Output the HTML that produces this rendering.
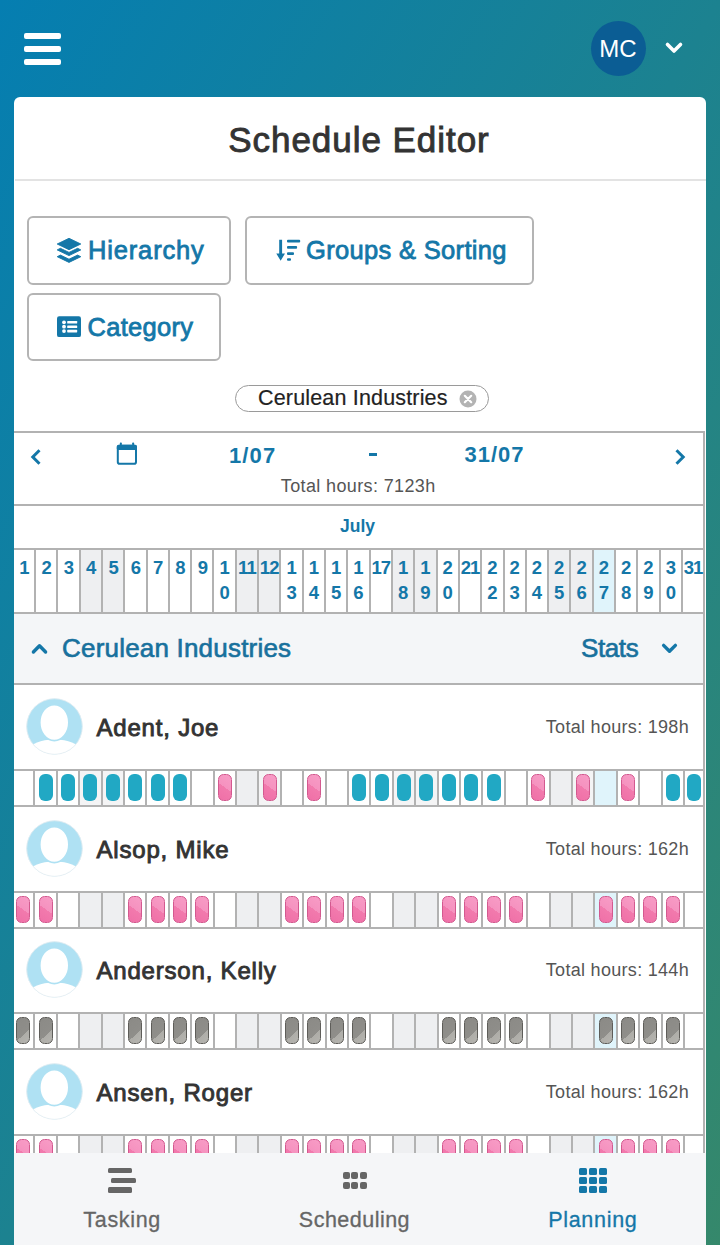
<!DOCTYPE html>
<html><head><meta charset="utf-8"><title>Schedule Editor</title>
<style>
html,body{margin:0;padding:0;overflow:hidden;}
body{width:720px;height:1245px;overflow:hidden;position:relative;font-family:"Liberation Sans", sans-serif;
background:linear-gradient(to bottom right,#057eb1 0%,#1c8290 50%,#35886b 100%);}
.t{position:absolute;white-space:nowrap;line-height:1;}
</style></head><body>
<div style="position:absolute;left:24.00px;top:32.50px;width:37.00px;height:6.00px;background:#fff;border-radius:2px;"></div><div style="position:absolute;left:24.00px;top:45.80px;width:37.00px;height:6.00px;background:#fff;border-radius:2px;"></div><div style="position:absolute;left:24.00px;top:59.00px;width:37.00px;height:6.00px;background:#fff;border-radius:2px;"></div><div style="position:absolute;left:590.50px;top:20.50px;width:55.00px;height:55.00px;background:#0b5d94;border-radius:50%;"></div><div class="t" style="left:218.00px;width:800px;text-align:center;top:37.18px;font-size:24px;font-weight:normal;color:#fff;">MC</div><svg style="position:absolute;left:664px;top:40px" width="20" height="16" viewBox="0 0 20 16"><polyline points="3.5,4.5 10,11 16.5,4.5" fill="none" stroke="#fff" stroke-width="3.6" stroke-linecap="round" stroke-linejoin="round"/></svg><div style="position:absolute;left:14.00px;top:97.00px;width:692.00px;height:1200.00px;background:#fff;border-radius:6px 6px 0 0;"></div><div class="t" style="left:-41.50px;width:800px;text-align:center;top:121.87px;font-size:35px;font-weight:normal;color:#333;letter-spacing:0.96px;text-indent:0.96px;-webkit-text-stroke:0.9px #333;">Schedule Editor</div><div style="position:absolute;left:15.00px;top:179.00px;width:691.00px;height:2.00px;background:#e3e3e3;"></div><div style="position:absolute;left:27.00px;top:216.00px;width:204.00px;height:69.00px;box-sizing:border-box;border:2px solid #b4b4b4;border-radius:6px;background:#fff;"></div><div style="position:absolute;left:245.00px;top:216.00px;width:289.00px;height:68.50px;box-sizing:border-box;border:2px solid #b4b4b4;border-radius:6px;background:#fff;"></div><div style="position:absolute;left:27.00px;top:292.50px;width:194.00px;height:68.00px;box-sizing:border-box;border:2px solid #b4b4b4;border-radius:6px;background:#fff;"></div><div style="position:absolute;left:235.00px;top:384.50px;width:253.50px;height:27.00px;box-sizing:border-box;border:1.5px solid #9a9a9a;border-radius:14px;background:#fff;"></div><div class="t" style="left:258.00px;top:387.70px;font-size:21.5px;font-weight:normal;color:#222;letter-spacing:0.17px;-webkit-text-stroke:0.2px #222;">Cerulean Industries</div><svg style="position:absolute;left:459px;top:389.5px" width="18" height="18" viewBox="0 0 18 18"><circle cx="9" cy="9" r="8.5" fill="#b3b3b3"/><path d="M5.8,5.8 L12.2,12.2 M12.2,5.8 L5.8,12.2" stroke="#fff" stroke-width="2.2" stroke-linecap="round"/></svg><div style="position:absolute;left:14.00px;top:431.00px;width:691.00px;height:2.00px;background:#b2b2b2;"></div><div style="position:absolute;left:14.00px;top:504.00px;width:691.00px;height:2.00px;background:#b2b2b2;"></div><div style="position:absolute;left:703.00px;top:431.00px;width:2.00px;height:1000.00px;background:#b2b2b2;"></div><svg style="position:absolute;left:28px;top:447px" width="16" height="20" viewBox="0 0 16 20"><polyline points="11.5,3.3 4.8,10 11.5,16.7" fill="none" stroke="#1477a8" stroke-width="3" stroke-linecap="butt" stroke-linejoin="miter"/></svg><svg style="position:absolute;left:672px;top:447px" width="16" height="20" viewBox="0 0 16 20"><polyline points="4.5,3.3 11.2,10 4.5,16.7" fill="none" stroke="#1477a8" stroke-width="3" stroke-linecap="butt" stroke-linejoin="miter"/></svg><svg style="position:absolute;left:116px;top:441px" width="23" height="25" viewBox="0 0 23 25"><rect x="1.8" y="4.8" width="18.2" height="17.9" rx="1.8" fill="none" stroke="#1477a8" stroke-width="2"/><rect x="0.8" y="3.8" width="20.2" height="5.3" rx="1.8" fill="#1477a8"/><rect x="3.9" y="1.6" width="1.9" height="3" rx="0.6" fill="#1477a8"/><rect x="16.2" y="1.6" width="1.9" height="3" rx="0.6" fill="#1477a8"/></svg><div class="t" style="left:229.00px;top:444.68px;font-size:22px;font-weight:bold;color:#1477a8;letter-spacing:1.1px;">1/07</div><div style="position:absolute;left:368.80px;top:453.00px;width:8.20px;height:3.20px;background:#1477a8;"></div><div class="t" style="left:464.50px;top:444.48px;font-size:22px;font-weight:bold;color:#1477a8;letter-spacing:1px;">31/07</div><div class="t" style="left:-42.00px;width:800px;text-align:center;top:476.96px;font-size:18px;font-weight:normal;color:#555;letter-spacing:0.37px;text-indent:0.37px;">Total hours: 7123h</div><div class="t" style="left:-42.50px;width:800px;text-align:center;top:517.59px;font-size:17.5px;font-weight:bold;color:#1477a8;">July</div><div style="position:absolute;left:80.62px;top:550.00px;width:20.31px;height:62.00px;background:#eeeff1;"></div><div style="position:absolute;left:102.93px;top:550.00px;width:20.31px;height:62.00px;background:#eeeff1;"></div><div style="position:absolute;left:236.79px;top:550.00px;width:20.31px;height:62.00px;background:#eeeff1;"></div><div style="position:absolute;left:259.10px;top:550.00px;width:20.31px;height:62.00px;background:#eeeff1;"></div><div style="position:absolute;left:392.96px;top:550.00px;width:20.31px;height:62.00px;background:#eeeff1;"></div><div style="position:absolute;left:415.27px;top:550.00px;width:20.31px;height:62.00px;background:#eeeff1;"></div><div style="position:absolute;left:549.13px;top:550.00px;width:20.31px;height:62.00px;background:#eeeff1;"></div><div style="position:absolute;left:571.44px;top:550.00px;width:20.31px;height:62.00px;background:#eeeff1;"></div><div style="position:absolute;left:593.75px;top:550.00px;width:20.31px;height:62.00px;background:#e0f4fb;"></div><div style="position:absolute;left:14.00px;top:548.00px;width:691.00px;height:2.00px;background:#b2b2b2;"></div><div style="position:absolute;left:14.00px;top:612.00px;width:691.00px;height:2.00px;background:#b2b2b2;"></div><div style="position:absolute;left:34.00px;top:548.00px;width:2.00px;height:66.00px;background:#b2b2b2;"></div><div style="position:absolute;left:56.31px;top:548.00px;width:2.00px;height:66.00px;background:#b2b2b2;"></div><div style="position:absolute;left:78.62px;top:548.00px;width:2.00px;height:66.00px;background:#b2b2b2;"></div><div style="position:absolute;left:100.93px;top:548.00px;width:2.00px;height:66.00px;background:#b2b2b2;"></div><div style="position:absolute;left:123.24px;top:548.00px;width:2.00px;height:66.00px;background:#b2b2b2;"></div><div style="position:absolute;left:145.55px;top:548.00px;width:2.00px;height:66.00px;background:#b2b2b2;"></div><div style="position:absolute;left:167.86px;top:548.00px;width:2.00px;height:66.00px;background:#b2b2b2;"></div><div style="position:absolute;left:190.17px;top:548.00px;width:2.00px;height:66.00px;background:#b2b2b2;"></div><div style="position:absolute;left:212.48px;top:548.00px;width:2.00px;height:66.00px;background:#b2b2b2;"></div><div style="position:absolute;left:234.79px;top:548.00px;width:2.00px;height:66.00px;background:#b2b2b2;"></div><div style="position:absolute;left:257.10px;top:548.00px;width:2.00px;height:66.00px;background:#b2b2b2;"></div><div style="position:absolute;left:279.41px;top:548.00px;width:2.00px;height:66.00px;background:#b2b2b2;"></div><div style="position:absolute;left:301.72px;top:548.00px;width:2.00px;height:66.00px;background:#b2b2b2;"></div><div style="position:absolute;left:324.03px;top:548.00px;width:2.00px;height:66.00px;background:#b2b2b2;"></div><div style="position:absolute;left:346.34px;top:548.00px;width:2.00px;height:66.00px;background:#b2b2b2;"></div><div style="position:absolute;left:368.65px;top:548.00px;width:2.00px;height:66.00px;background:#b2b2b2;"></div><div style="position:absolute;left:390.96px;top:548.00px;width:2.00px;height:66.00px;background:#b2b2b2;"></div><div style="position:absolute;left:413.27px;top:548.00px;width:2.00px;height:66.00px;background:#b2b2b2;"></div><div style="position:absolute;left:435.58px;top:548.00px;width:2.00px;height:66.00px;background:#b2b2b2;"></div><div style="position:absolute;left:457.89px;top:548.00px;width:2.00px;height:66.00px;background:#b2b2b2;"></div><div style="position:absolute;left:480.20px;top:548.00px;width:2.00px;height:66.00px;background:#b2b2b2;"></div><div style="position:absolute;left:502.51px;top:548.00px;width:2.00px;height:66.00px;background:#b2b2b2;"></div><div style="position:absolute;left:524.82px;top:548.00px;width:2.00px;height:66.00px;background:#b2b2b2;"></div><div style="position:absolute;left:547.13px;top:548.00px;width:2.00px;height:66.00px;background:#b2b2b2;"></div><div style="position:absolute;left:569.44px;top:548.00px;width:2.00px;height:66.00px;background:#b2b2b2;"></div><div style="position:absolute;left:591.75px;top:548.00px;width:2.00px;height:66.00px;background:#b2b2b2;"></div><div style="position:absolute;left:614.06px;top:548.00px;width:2.00px;height:66.00px;background:#b2b2b2;"></div><div style="position:absolute;left:636.37px;top:548.00px;width:2.00px;height:66.00px;background:#b2b2b2;"></div><div style="position:absolute;left:658.68px;top:548.00px;width:2.00px;height:66.00px;background:#b2b2b2;"></div><div style="position:absolute;left:680.99px;top:548.00px;width:2.00px;height:66.00px;background:#b2b2b2;"></div><div class="t" style="left:-376.15px;width:800px;text-align:center;top:559.34px;font-size:18.5px;font-weight:bold;color:#1477a8;letter-spacing:-0.9px;">1</div><div class="t" style="left:-353.85px;width:800px;text-align:center;top:559.34px;font-size:18.5px;font-weight:bold;color:#1477a8;letter-spacing:-0.9px;">2</div><div class="t" style="left:-331.53px;width:800px;text-align:center;top:559.34px;font-size:18.5px;font-weight:bold;color:#1477a8;letter-spacing:-0.9px;">3</div><div class="t" style="left:-309.23px;width:800px;text-align:center;top:559.34px;font-size:18.5px;font-weight:bold;color:#1477a8;letter-spacing:-0.9px;">4</div><div class="t" style="left:-286.92px;width:800px;text-align:center;top:559.34px;font-size:18.5px;font-weight:bold;color:#1477a8;letter-spacing:-0.9px;">5</div><div class="t" style="left:-264.61px;width:800px;text-align:center;top:559.34px;font-size:18.5px;font-weight:bold;color:#1477a8;letter-spacing:-0.9px;">6</div><div class="t" style="left:-242.30px;width:800px;text-align:center;top:559.34px;font-size:18.5px;font-weight:bold;color:#1477a8;letter-spacing:-0.9px;">7</div><div class="t" style="left:-219.99px;width:800px;text-align:center;top:559.34px;font-size:18.5px;font-weight:bold;color:#1477a8;letter-spacing:-0.9px;">8</div><div class="t" style="left:-197.68px;width:800px;text-align:center;top:559.34px;font-size:18.5px;font-weight:bold;color:#1477a8;letter-spacing:-0.9px;">9</div><div class="t" style="left:-175.37px;width:800px;text-align:center;top:559.34px;font-size:18.5px;font-weight:bold;color:#1477a8;">1</div><div class="t" style="left:-175.37px;width:800px;text-align:center;top:583.54px;font-size:18.5px;font-weight:bold;color:#1477a8;">0</div><div class="t" style="left:-153.06px;width:800px;text-align:center;top:559.34px;font-size:18.5px;font-weight:bold;color:#1477a8;letter-spacing:-0.9px;">11</div><div class="t" style="left:-130.75px;width:800px;text-align:center;top:559.34px;font-size:18.5px;font-weight:bold;color:#1477a8;letter-spacing:-0.9px;">12</div><div class="t" style="left:-108.44px;width:800px;text-align:center;top:559.34px;font-size:18.5px;font-weight:bold;color:#1477a8;">1</div><div class="t" style="left:-108.44px;width:800px;text-align:center;top:583.54px;font-size:18.5px;font-weight:bold;color:#1477a8;">3</div><div class="t" style="left:-86.12px;width:800px;text-align:center;top:559.34px;font-size:18.5px;font-weight:bold;color:#1477a8;">1</div><div class="t" style="left:-86.12px;width:800px;text-align:center;top:583.54px;font-size:18.5px;font-weight:bold;color:#1477a8;">4</div><div class="t" style="left:-63.82px;width:800px;text-align:center;top:559.34px;font-size:18.5px;font-weight:bold;color:#1477a8;">1</div><div class="t" style="left:-63.82px;width:800px;text-align:center;top:583.54px;font-size:18.5px;font-weight:bold;color:#1477a8;">5</div><div class="t" style="left:-41.50px;width:800px;text-align:center;top:559.34px;font-size:18.5px;font-weight:bold;color:#1477a8;">1</div><div class="t" style="left:-41.50px;width:800px;text-align:center;top:583.54px;font-size:18.5px;font-weight:bold;color:#1477a8;">6</div><div class="t" style="left:-19.20px;width:800px;text-align:center;top:559.34px;font-size:18.5px;font-weight:bold;color:#1477a8;letter-spacing:-0.9px;">17</div><div class="t" style="left:3.12px;width:800px;text-align:center;top:559.34px;font-size:18.5px;font-weight:bold;color:#1477a8;">1</div><div class="t" style="left:3.12px;width:800px;text-align:center;top:583.54px;font-size:18.5px;font-weight:bold;color:#1477a8;">8</div><div class="t" style="left:25.42px;width:800px;text-align:center;top:559.34px;font-size:18.5px;font-weight:bold;color:#1477a8;">1</div><div class="t" style="left:25.42px;width:800px;text-align:center;top:583.54px;font-size:18.5px;font-weight:bold;color:#1477a8;">9</div><div class="t" style="left:47.74px;width:800px;text-align:center;top:559.34px;font-size:18.5px;font-weight:bold;color:#1477a8;">2</div><div class="t" style="left:47.74px;width:800px;text-align:center;top:583.54px;font-size:18.5px;font-weight:bold;color:#1477a8;">0</div><div class="t" style="left:70.04px;width:800px;text-align:center;top:559.34px;font-size:18.5px;font-weight:bold;color:#1477a8;letter-spacing:-0.9px;">21</div><div class="t" style="left:92.36px;width:800px;text-align:center;top:559.34px;font-size:18.5px;font-weight:bold;color:#1477a8;">2</div><div class="t" style="left:92.36px;width:800px;text-align:center;top:583.54px;font-size:18.5px;font-weight:bold;color:#1477a8;">2</div><div class="t" style="left:114.66px;width:800px;text-align:center;top:559.34px;font-size:18.5px;font-weight:bold;color:#1477a8;">2</div><div class="t" style="left:114.66px;width:800px;text-align:center;top:583.54px;font-size:18.5px;font-weight:bold;color:#1477a8;">3</div><div class="t" style="left:136.97px;width:800px;text-align:center;top:559.34px;font-size:18.5px;font-weight:bold;color:#1477a8;">2</div><div class="t" style="left:136.97px;width:800px;text-align:center;top:583.54px;font-size:18.5px;font-weight:bold;color:#1477a8;">4</div><div class="t" style="left:159.28px;width:800px;text-align:center;top:559.34px;font-size:18.5px;font-weight:bold;color:#1477a8;">2</div><div class="t" style="left:159.28px;width:800px;text-align:center;top:583.54px;font-size:18.5px;font-weight:bold;color:#1477a8;">5</div><div class="t" style="left:181.60px;width:800px;text-align:center;top:559.34px;font-size:18.5px;font-weight:bold;color:#1477a8;">2</div><div class="t" style="left:181.60px;width:800px;text-align:center;top:583.54px;font-size:18.5px;font-weight:bold;color:#1477a8;">6</div><div class="t" style="left:203.90px;width:800px;text-align:center;top:559.34px;font-size:18.5px;font-weight:bold;color:#1477a8;">2</div><div class="t" style="left:203.90px;width:800px;text-align:center;top:583.54px;font-size:18.5px;font-weight:bold;color:#1477a8;">7</div><div class="t" style="left:226.21px;width:800px;text-align:center;top:559.34px;font-size:18.5px;font-weight:bold;color:#1477a8;">2</div><div class="t" style="left:226.21px;width:800px;text-align:center;top:583.54px;font-size:18.5px;font-weight:bold;color:#1477a8;">8</div><div class="t" style="left:248.52px;width:800px;text-align:center;top:559.34px;font-size:18.5px;font-weight:bold;color:#1477a8;">2</div><div class="t" style="left:248.52px;width:800px;text-align:center;top:583.54px;font-size:18.5px;font-weight:bold;color:#1477a8;">9</div><div class="t" style="left:270.84px;width:800px;text-align:center;top:559.34px;font-size:18.5px;font-weight:bold;color:#1477a8;">3</div><div class="t" style="left:270.84px;width:800px;text-align:center;top:583.54px;font-size:18.5px;font-weight:bold;color:#1477a8;">0</div><div class="t" style="left:293.14px;width:800px;text-align:center;top:559.34px;font-size:18.5px;font-weight:bold;color:#1477a8;letter-spacing:-0.9px;">31</div><div style="position:absolute;left:14.00px;top:614.00px;width:689.00px;height:69.50px;background:#f4f6f8;"></div><div style="position:absolute;left:14.00px;top:683.00px;width:691.00px;height:2.00px;background:#b2b2b2;"></div><svg style="position:absolute;left:29px;top:641px" width="21" height="16" viewBox="0 0 21 16"><polyline points="4.4,11 10.5,4.7 16.6,11" fill="none" stroke="#1477a8" stroke-width="3.4" stroke-linecap="round" stroke-linejoin="round"/></svg><div class="t" style="left:62.00px;top:634.79px;font-size:26px;font-weight:normal;color:#18719d;letter-spacing:0.2px;-webkit-text-stroke:0.65px #18719d;">Cerulean Industries</div><div class="t" style="left:581.00px;top:634.79px;font-size:26px;font-weight:normal;color:#18719d;letter-spacing:-0.4px;-webkit-text-stroke:0.65px #18719d;">Stats</div><svg style="position:absolute;left:659px;top:640px" width="21" height="16" viewBox="0 0 21 16"><polyline points="4.6,5.4 10.5,11.3 16.4,5.4" fill="none" stroke="#1477a8" stroke-width="3.4" stroke-linecap="round" stroke-linejoin="round"/></svg><svg style="position:absolute;left:25.5px;top:698px" width="57" height="57" viewBox="0 0 57 57"><defs><clipPath id="c0"><circle cx="28.5" cy="28.5" r="28"/></clipPath></defs><circle cx="28.5" cy="28.5" r="28" fill="#afe1f3"/><g clip-path="url(#c0)"><path d="M0,57 L0,52 C6,46 14,41.5 28.5,41.5 C43,41.5 51,46 57,52 L57,57 Z" fill="#fff"/><ellipse cx="28.3" cy="24.6" rx="14.5" ry="18" fill="#fff" stroke="#afe1f3" stroke-width="1.6"/></g><circle cx="28.5" cy="28.5" r="27.8" fill="none" stroke="#e6eef1" stroke-width="0.8"/></svg><div class="t" style="left:96.50px;top:715.68px;font-size:24px;font-weight:normal;color:#333;letter-spacing:0.8px;-webkit-text-stroke:0.9px #333;">Adent, Joe</div><div class="t" style="left:-111.00px;width:800px;text-align:right;top:717.56px;font-size:18px;font-weight:normal;color:#555;letter-spacing:0.3px;margin-right:-0.3px;">Total hours: 198h</div><div style="position:absolute;left:80.20px;top:771.00px;width:20.40px;height:34.00px;background:#f4f4f5;"></div><div style="position:absolute;left:102.60px;top:771.00px;width:20.40px;height:34.00px;background:#f4f4f5;"></div><div style="position:absolute;left:237.00px;top:771.00px;width:20.40px;height:34.00px;background:#eeeff1;"></div><div style="position:absolute;left:259.40px;top:771.00px;width:20.40px;height:34.00px;background:#f4f4f5;"></div><div style="position:absolute;left:393.80px;top:771.00px;width:20.40px;height:34.00px;background:#f4f4f5;"></div><div style="position:absolute;left:416.20px;top:771.00px;width:20.40px;height:34.00px;background:#f4f4f5;"></div><div style="position:absolute;left:550.60px;top:771.00px;width:20.40px;height:34.00px;background:#eeeff1;"></div><div style="position:absolute;left:573.00px;top:771.00px;width:20.40px;height:34.00px;background:#f4f4f5;"></div><div style="position:absolute;left:595.40px;top:771.00px;width:20.40px;height:34.00px;background:#e0f4fb;"></div><div style="position:absolute;left:14.00px;top:769.00px;width:691.00px;height:2.00px;background:#b2b2b2;"></div><div style="position:absolute;left:14.00px;top:805.00px;width:691.00px;height:2.00px;background:#b2b2b2;"></div><div style="position:absolute;left:33.40px;top:769.00px;width:2.00px;height:38.00px;background:#b2b2b2;"></div><div style="position:absolute;left:55.80px;top:769.00px;width:2.00px;height:38.00px;background:#b2b2b2;"></div><div style="position:absolute;left:78.20px;top:769.00px;width:2.00px;height:38.00px;background:#b2b2b2;"></div><div style="position:absolute;left:100.60px;top:769.00px;width:2.00px;height:38.00px;background:#b2b2b2;"></div><div style="position:absolute;left:123.00px;top:769.00px;width:2.00px;height:38.00px;background:#b2b2b2;"></div><div style="position:absolute;left:145.40px;top:769.00px;width:2.00px;height:38.00px;background:#b2b2b2;"></div><div style="position:absolute;left:167.80px;top:769.00px;width:2.00px;height:38.00px;background:#b2b2b2;"></div><div style="position:absolute;left:190.20px;top:769.00px;width:2.00px;height:38.00px;background:#b2b2b2;"></div><div style="position:absolute;left:212.60px;top:769.00px;width:2.00px;height:38.00px;background:#b2b2b2;"></div><div style="position:absolute;left:235.00px;top:769.00px;width:2.00px;height:38.00px;background:#b2b2b2;"></div><div style="position:absolute;left:257.40px;top:769.00px;width:2.00px;height:38.00px;background:#b2b2b2;"></div><div style="position:absolute;left:279.80px;top:769.00px;width:2.00px;height:38.00px;background:#b2b2b2;"></div><div style="position:absolute;left:302.20px;top:769.00px;width:2.00px;height:38.00px;background:#b2b2b2;"></div><div style="position:absolute;left:324.60px;top:769.00px;width:2.00px;height:38.00px;background:#b2b2b2;"></div><div style="position:absolute;left:347.00px;top:769.00px;width:2.00px;height:38.00px;background:#b2b2b2;"></div><div style="position:absolute;left:369.40px;top:769.00px;width:2.00px;height:38.00px;background:#b2b2b2;"></div><div style="position:absolute;left:391.80px;top:769.00px;width:2.00px;height:38.00px;background:#b2b2b2;"></div><div style="position:absolute;left:414.20px;top:769.00px;width:2.00px;height:38.00px;background:#b2b2b2;"></div><div style="position:absolute;left:436.60px;top:769.00px;width:2.00px;height:38.00px;background:#b2b2b2;"></div><div style="position:absolute;left:459.00px;top:769.00px;width:2.00px;height:38.00px;background:#b2b2b2;"></div><div style="position:absolute;left:481.40px;top:769.00px;width:2.00px;height:38.00px;background:#b2b2b2;"></div><div style="position:absolute;left:503.80px;top:769.00px;width:2.00px;height:38.00px;background:#b2b2b2;"></div><div style="position:absolute;left:526.20px;top:769.00px;width:2.00px;height:38.00px;background:#b2b2b2;"></div><div style="position:absolute;left:548.60px;top:769.00px;width:2.00px;height:38.00px;background:#b2b2b2;"></div><div style="position:absolute;left:571.00px;top:769.00px;width:2.00px;height:38.00px;background:#b2b2b2;"></div><div style="position:absolute;left:593.40px;top:769.00px;width:2.00px;height:38.00px;background:#b2b2b2;"></div><div style="position:absolute;left:615.80px;top:769.00px;width:2.00px;height:38.00px;background:#b2b2b2;"></div><div style="position:absolute;left:638.20px;top:769.00px;width:2.00px;height:38.00px;background:#b2b2b2;"></div><div style="position:absolute;left:660.60px;top:769.00px;width:2.00px;height:38.00px;background:#b2b2b2;"></div><div style="position:absolute;left:683.00px;top:769.00px;width:2.00px;height:38.00px;background:#b2b2b2;"></div><div style="position:absolute;left:38.60px;top:773.50px;width:14.00px;height:27.50px;background:#21a8c4;border-radius:6px;"></div><div style="position:absolute;left:61.00px;top:773.50px;width:14.00px;height:27.50px;background:#21a8c4;border-radius:6px;"></div><div style="position:absolute;left:83.40px;top:773.50px;width:14.00px;height:27.50px;background:#21a8c4;border-radius:6px;"></div><div style="position:absolute;left:105.80px;top:773.50px;width:14.00px;height:27.50px;background:#21a8c4;border-radius:6px;"></div><div style="position:absolute;left:128.20px;top:773.50px;width:14.00px;height:27.50px;background:#21a8c4;border-radius:6px;"></div><div style="position:absolute;left:150.60px;top:773.50px;width:14.00px;height:27.50px;background:#21a8c4;border-radius:6px;"></div><div style="position:absolute;left:173.00px;top:773.50px;width:14.00px;height:27.50px;background:#21a8c4;border-radius:6px;"></div><div style="position:absolute;left:217.80px;top:773.50px;width:14.00px;height:27.50px;box-sizing:border-box;border:1.3px solid #d3598f;border-radius:5.5px;background:linear-gradient(216deg,#f89cc6 0%,#f592bf 50%,#f27aad 50%,#ef70a7 100%);"></div><div style="position:absolute;left:262.60px;top:773.50px;width:14.00px;height:27.50px;box-sizing:border-box;border:1.3px solid #d3598f;border-radius:5.5px;background:linear-gradient(216deg,#f89cc6 0%,#f592bf 50%,#f27aad 50%,#ef70a7 100%);"></div><div style="position:absolute;left:307.40px;top:773.50px;width:14.00px;height:27.50px;box-sizing:border-box;border:1.3px solid #d3598f;border-radius:5.5px;background:linear-gradient(216deg,#f89cc6 0%,#f592bf 50%,#f27aad 50%,#ef70a7 100%);"></div><div style="position:absolute;left:531.40px;top:773.50px;width:14.00px;height:27.50px;box-sizing:border-box;border:1.3px solid #d3598f;border-radius:5.5px;background:linear-gradient(216deg,#f89cc6 0%,#f592bf 50%,#f27aad 50%,#ef70a7 100%);"></div><div style="position:absolute;left:576.20px;top:773.50px;width:14.00px;height:27.50px;box-sizing:border-box;border:1.3px solid #d3598f;border-radius:5.5px;background:linear-gradient(216deg,#f89cc6 0%,#f592bf 50%,#f27aad 50%,#ef70a7 100%);"></div><div style="position:absolute;left:621.00px;top:773.50px;width:14.00px;height:27.50px;box-sizing:border-box;border:1.3px solid #d3598f;border-radius:5.5px;background:linear-gradient(216deg,#f89cc6 0%,#f592bf 50%,#f27aad 50%,#ef70a7 100%);"></div><div style="position:absolute;left:352.20px;top:773.50px;width:14.00px;height:27.50px;background:#21a8c4;border-radius:6px;"></div><div style="position:absolute;left:374.60px;top:773.50px;width:14.00px;height:27.50px;background:#21a8c4;border-radius:6px;"></div><div style="position:absolute;left:397.00px;top:773.50px;width:14.00px;height:27.50px;background:#21a8c4;border-radius:6px;"></div><div style="position:absolute;left:419.40px;top:773.50px;width:14.00px;height:27.50px;background:#21a8c4;border-radius:6px;"></div><div style="position:absolute;left:441.80px;top:773.50px;width:14.00px;height:27.50px;background:#21a8c4;border-radius:6px;"></div><div style="position:absolute;left:464.20px;top:773.50px;width:14.00px;height:27.50px;background:#21a8c4;border-radius:6px;"></div><div style="position:absolute;left:486.60px;top:773.50px;width:14.00px;height:27.50px;background:#21a8c4;border-radius:6px;"></div><div style="position:absolute;left:665.80px;top:773.50px;width:14.00px;height:27.50px;background:#21a8c4;border-radius:6px;"></div><div style="position:absolute;left:687.10px;top:773.50px;width:14.00px;height:27.50px;background:#21a8c4;border-radius:6px;"></div><svg style="position:absolute;left:25.5px;top:820px" width="57" height="57" viewBox="0 0 57 57"><defs><clipPath id="c1"><circle cx="28.5" cy="28.5" r="28"/></clipPath></defs><circle cx="28.5" cy="28.5" r="28" fill="#afe1f3"/><g clip-path="url(#c1)"><path d="M0,57 L0,52 C6,46 14,41.5 28.5,41.5 C43,41.5 51,46 57,52 L57,57 Z" fill="#fff"/><ellipse cx="28.3" cy="24.6" rx="14.5" ry="18" fill="#fff" stroke="#afe1f3" stroke-width="1.6"/></g><circle cx="28.5" cy="28.5" r="27.8" fill="none" stroke="#e6eef1" stroke-width="0.8"/></svg><div class="t" style="left:96.50px;top:837.68px;font-size:24px;font-weight:normal;color:#333;letter-spacing:0.8px;-webkit-text-stroke:0.9px #333;">Alsop, Mike</div><div class="t" style="left:-111.00px;width:800px;text-align:right;top:839.56px;font-size:18px;font-weight:normal;color:#555;letter-spacing:0.3px;margin-right:-0.3px;">Total hours: 162h</div><div style="position:absolute;left:80.20px;top:893.00px;width:20.40px;height:34.00px;background:#eeeff1;"></div><div style="position:absolute;left:102.60px;top:893.00px;width:20.40px;height:34.00px;background:#eeeff1;"></div><div style="position:absolute;left:237.00px;top:893.00px;width:20.40px;height:34.00px;background:#eeeff1;"></div><div style="position:absolute;left:259.40px;top:893.00px;width:20.40px;height:34.00px;background:#eeeff1;"></div><div style="position:absolute;left:393.80px;top:893.00px;width:20.40px;height:34.00px;background:#eeeff1;"></div><div style="position:absolute;left:416.20px;top:893.00px;width:20.40px;height:34.00px;background:#eeeff1;"></div><div style="position:absolute;left:550.60px;top:893.00px;width:20.40px;height:34.00px;background:#eeeff1;"></div><div style="position:absolute;left:573.00px;top:893.00px;width:20.40px;height:34.00px;background:#eeeff1;"></div><div style="position:absolute;left:595.40px;top:893.00px;width:20.40px;height:34.00px;background:#e0f4fb;"></div><div style="position:absolute;left:14.00px;top:891.00px;width:691.00px;height:2.00px;background:#b2b2b2;"></div><div style="position:absolute;left:14.00px;top:927.00px;width:691.00px;height:2.00px;background:#b2b2b2;"></div><div style="position:absolute;left:33.40px;top:891.00px;width:2.00px;height:38.00px;background:#b2b2b2;"></div><div style="position:absolute;left:55.80px;top:891.00px;width:2.00px;height:38.00px;background:#b2b2b2;"></div><div style="position:absolute;left:78.20px;top:891.00px;width:2.00px;height:38.00px;background:#b2b2b2;"></div><div style="position:absolute;left:100.60px;top:891.00px;width:2.00px;height:38.00px;background:#b2b2b2;"></div><div style="position:absolute;left:123.00px;top:891.00px;width:2.00px;height:38.00px;background:#b2b2b2;"></div><div style="position:absolute;left:145.40px;top:891.00px;width:2.00px;height:38.00px;background:#b2b2b2;"></div><div style="position:absolute;left:167.80px;top:891.00px;width:2.00px;height:38.00px;background:#b2b2b2;"></div><div style="position:absolute;left:190.20px;top:891.00px;width:2.00px;height:38.00px;background:#b2b2b2;"></div><div style="position:absolute;left:212.60px;top:891.00px;width:2.00px;height:38.00px;background:#b2b2b2;"></div><div style="position:absolute;left:235.00px;top:891.00px;width:2.00px;height:38.00px;background:#b2b2b2;"></div><div style="position:absolute;left:257.40px;top:891.00px;width:2.00px;height:38.00px;background:#b2b2b2;"></div><div style="position:absolute;left:279.80px;top:891.00px;width:2.00px;height:38.00px;background:#b2b2b2;"></div><div style="position:absolute;left:302.20px;top:891.00px;width:2.00px;height:38.00px;background:#b2b2b2;"></div><div style="position:absolute;left:324.60px;top:891.00px;width:2.00px;height:38.00px;background:#b2b2b2;"></div><div style="position:absolute;left:347.00px;top:891.00px;width:2.00px;height:38.00px;background:#b2b2b2;"></div><div style="position:absolute;left:369.40px;top:891.00px;width:2.00px;height:38.00px;background:#b2b2b2;"></div><div style="position:absolute;left:391.80px;top:891.00px;width:2.00px;height:38.00px;background:#b2b2b2;"></div><div style="position:absolute;left:414.20px;top:891.00px;width:2.00px;height:38.00px;background:#b2b2b2;"></div><div style="position:absolute;left:436.60px;top:891.00px;width:2.00px;height:38.00px;background:#b2b2b2;"></div><div style="position:absolute;left:459.00px;top:891.00px;width:2.00px;height:38.00px;background:#b2b2b2;"></div><div style="position:absolute;left:481.40px;top:891.00px;width:2.00px;height:38.00px;background:#b2b2b2;"></div><div style="position:absolute;left:503.80px;top:891.00px;width:2.00px;height:38.00px;background:#b2b2b2;"></div><div style="position:absolute;left:526.20px;top:891.00px;width:2.00px;height:38.00px;background:#b2b2b2;"></div><div style="position:absolute;left:548.60px;top:891.00px;width:2.00px;height:38.00px;background:#b2b2b2;"></div><div style="position:absolute;left:571.00px;top:891.00px;width:2.00px;height:38.00px;background:#b2b2b2;"></div><div style="position:absolute;left:593.40px;top:891.00px;width:2.00px;height:38.00px;background:#b2b2b2;"></div><div style="position:absolute;left:615.80px;top:891.00px;width:2.00px;height:38.00px;background:#b2b2b2;"></div><div style="position:absolute;left:638.20px;top:891.00px;width:2.00px;height:38.00px;background:#b2b2b2;"></div><div style="position:absolute;left:660.60px;top:891.00px;width:2.00px;height:38.00px;background:#b2b2b2;"></div><div style="position:absolute;left:683.00px;top:891.00px;width:2.00px;height:38.00px;background:#b2b2b2;"></div><div style="position:absolute;left:16.20px;top:895.50px;width:14.00px;height:27.50px;box-sizing:border-box;border:1.3px solid #d3598f;border-radius:5.5px;background:linear-gradient(216deg,#f89cc6 0%,#f592bf 50%,#f27aad 50%,#ef70a7 100%);"></div><div style="position:absolute;left:38.60px;top:895.50px;width:14.00px;height:27.50px;box-sizing:border-box;border:1.3px solid #d3598f;border-radius:5.5px;background:linear-gradient(216deg,#f89cc6 0%,#f592bf 50%,#f27aad 50%,#ef70a7 100%);"></div><div style="position:absolute;left:128.20px;top:895.50px;width:14.00px;height:27.50px;box-sizing:border-box;border:1.3px solid #d3598f;border-radius:5.5px;background:linear-gradient(216deg,#f89cc6 0%,#f592bf 50%,#f27aad 50%,#ef70a7 100%);"></div><div style="position:absolute;left:150.60px;top:895.50px;width:14.00px;height:27.50px;box-sizing:border-box;border:1.3px solid #d3598f;border-radius:5.5px;background:linear-gradient(216deg,#f89cc6 0%,#f592bf 50%,#f27aad 50%,#ef70a7 100%);"></div><div style="position:absolute;left:173.00px;top:895.50px;width:14.00px;height:27.50px;box-sizing:border-box;border:1.3px solid #d3598f;border-radius:5.5px;background:linear-gradient(216deg,#f89cc6 0%,#f592bf 50%,#f27aad 50%,#ef70a7 100%);"></div><div style="position:absolute;left:195.40px;top:895.50px;width:14.00px;height:27.50px;box-sizing:border-box;border:1.3px solid #d3598f;border-radius:5.5px;background:linear-gradient(216deg,#f89cc6 0%,#f592bf 50%,#f27aad 50%,#ef70a7 100%);"></div><div style="position:absolute;left:285.00px;top:895.50px;width:14.00px;height:27.50px;box-sizing:border-box;border:1.3px solid #d3598f;border-radius:5.5px;background:linear-gradient(216deg,#f89cc6 0%,#f592bf 50%,#f27aad 50%,#ef70a7 100%);"></div><div style="position:absolute;left:307.40px;top:895.50px;width:14.00px;height:27.50px;box-sizing:border-box;border:1.3px solid #d3598f;border-radius:5.5px;background:linear-gradient(216deg,#f89cc6 0%,#f592bf 50%,#f27aad 50%,#ef70a7 100%);"></div><div style="position:absolute;left:329.80px;top:895.50px;width:14.00px;height:27.50px;box-sizing:border-box;border:1.3px solid #d3598f;border-radius:5.5px;background:linear-gradient(216deg,#f89cc6 0%,#f592bf 50%,#f27aad 50%,#ef70a7 100%);"></div><div style="position:absolute;left:352.20px;top:895.50px;width:14.00px;height:27.50px;box-sizing:border-box;border:1.3px solid #d3598f;border-radius:5.5px;background:linear-gradient(216deg,#f89cc6 0%,#f592bf 50%,#f27aad 50%,#ef70a7 100%);"></div><div style="position:absolute;left:441.80px;top:895.50px;width:14.00px;height:27.50px;box-sizing:border-box;border:1.3px solid #d3598f;border-radius:5.5px;background:linear-gradient(216deg,#f89cc6 0%,#f592bf 50%,#f27aad 50%,#ef70a7 100%);"></div><div style="position:absolute;left:464.20px;top:895.50px;width:14.00px;height:27.50px;box-sizing:border-box;border:1.3px solid #d3598f;border-radius:5.5px;background:linear-gradient(216deg,#f89cc6 0%,#f592bf 50%,#f27aad 50%,#ef70a7 100%);"></div><div style="position:absolute;left:486.60px;top:895.50px;width:14.00px;height:27.50px;box-sizing:border-box;border:1.3px solid #d3598f;border-radius:5.5px;background:linear-gradient(216deg,#f89cc6 0%,#f592bf 50%,#f27aad 50%,#ef70a7 100%);"></div><div style="position:absolute;left:509.00px;top:895.50px;width:14.00px;height:27.50px;box-sizing:border-box;border:1.3px solid #d3598f;border-radius:5.5px;background:linear-gradient(216deg,#f89cc6 0%,#f592bf 50%,#f27aad 50%,#ef70a7 100%);"></div><div style="position:absolute;left:598.60px;top:895.50px;width:14.00px;height:27.50px;box-sizing:border-box;border:1.3px solid #d3598f;border-radius:5.5px;background:linear-gradient(216deg,#f89cc6 0%,#f592bf 50%,#f27aad 50%,#ef70a7 100%);"></div><div style="position:absolute;left:621.00px;top:895.50px;width:14.00px;height:27.50px;box-sizing:border-box;border:1.3px solid #d3598f;border-radius:5.5px;background:linear-gradient(216deg,#f89cc6 0%,#f592bf 50%,#f27aad 50%,#ef70a7 100%);"></div><div style="position:absolute;left:643.40px;top:895.50px;width:14.00px;height:27.50px;box-sizing:border-box;border:1.3px solid #d3598f;border-radius:5.5px;background:linear-gradient(216deg,#f89cc6 0%,#f592bf 50%,#f27aad 50%,#ef70a7 100%);"></div><div style="position:absolute;left:665.80px;top:895.50px;width:14.00px;height:27.50px;box-sizing:border-box;border:1.3px solid #d3598f;border-radius:5.5px;background:linear-gradient(216deg,#f89cc6 0%,#f592bf 50%,#f27aad 50%,#ef70a7 100%);"></div><svg style="position:absolute;left:25.5px;top:941px" width="57" height="57" viewBox="0 0 57 57"><defs><clipPath id="c2"><circle cx="28.5" cy="28.5" r="28"/></clipPath></defs><circle cx="28.5" cy="28.5" r="28" fill="#afe1f3"/><g clip-path="url(#c2)"><path d="M0,57 L0,52 C6,46 14,41.5 28.5,41.5 C43,41.5 51,46 57,52 L57,57 Z" fill="#fff"/><ellipse cx="28.3" cy="24.6" rx="14.5" ry="18" fill="#fff" stroke="#afe1f3" stroke-width="1.6"/></g><circle cx="28.5" cy="28.5" r="27.8" fill="none" stroke="#e6eef1" stroke-width="0.8"/></svg><div class="t" style="left:96.50px;top:958.68px;font-size:24px;font-weight:normal;color:#333;letter-spacing:0.8px;-webkit-text-stroke:0.9px #333;">Anderson, Kelly</div><div class="t" style="left:-111.00px;width:800px;text-align:right;top:960.56px;font-size:18px;font-weight:normal;color:#555;letter-spacing:0.3px;margin-right:-0.3px;">Total hours: 144h</div><div style="position:absolute;left:80.20px;top:1014.00px;width:20.40px;height:34.00px;background:#eeeff1;"></div><div style="position:absolute;left:102.60px;top:1014.00px;width:20.40px;height:34.00px;background:#eeeff1;"></div><div style="position:absolute;left:237.00px;top:1014.00px;width:20.40px;height:34.00px;background:#eeeff1;"></div><div style="position:absolute;left:259.40px;top:1014.00px;width:20.40px;height:34.00px;background:#eeeff1;"></div><div style="position:absolute;left:393.80px;top:1014.00px;width:20.40px;height:34.00px;background:#eeeff1;"></div><div style="position:absolute;left:416.20px;top:1014.00px;width:20.40px;height:34.00px;background:#eeeff1;"></div><div style="position:absolute;left:550.60px;top:1014.00px;width:20.40px;height:34.00px;background:#eeeff1;"></div><div style="position:absolute;left:573.00px;top:1014.00px;width:20.40px;height:34.00px;background:#eeeff1;"></div><div style="position:absolute;left:595.40px;top:1014.00px;width:20.40px;height:34.00px;background:#e0f4fb;"></div><div style="position:absolute;left:14.00px;top:1012.00px;width:691.00px;height:2.00px;background:#b2b2b2;"></div><div style="position:absolute;left:14.00px;top:1048.00px;width:691.00px;height:2.00px;background:#b2b2b2;"></div><div style="position:absolute;left:33.40px;top:1012.00px;width:2.00px;height:38.00px;background:#b2b2b2;"></div><div style="position:absolute;left:55.80px;top:1012.00px;width:2.00px;height:38.00px;background:#b2b2b2;"></div><div style="position:absolute;left:78.20px;top:1012.00px;width:2.00px;height:38.00px;background:#b2b2b2;"></div><div style="position:absolute;left:100.60px;top:1012.00px;width:2.00px;height:38.00px;background:#b2b2b2;"></div><div style="position:absolute;left:123.00px;top:1012.00px;width:2.00px;height:38.00px;background:#b2b2b2;"></div><div style="position:absolute;left:145.40px;top:1012.00px;width:2.00px;height:38.00px;background:#b2b2b2;"></div><div style="position:absolute;left:167.80px;top:1012.00px;width:2.00px;height:38.00px;background:#b2b2b2;"></div><div style="position:absolute;left:190.20px;top:1012.00px;width:2.00px;height:38.00px;background:#b2b2b2;"></div><div style="position:absolute;left:212.60px;top:1012.00px;width:2.00px;height:38.00px;background:#b2b2b2;"></div><div style="position:absolute;left:235.00px;top:1012.00px;width:2.00px;height:38.00px;background:#b2b2b2;"></div><div style="position:absolute;left:257.40px;top:1012.00px;width:2.00px;height:38.00px;background:#b2b2b2;"></div><div style="position:absolute;left:279.80px;top:1012.00px;width:2.00px;height:38.00px;background:#b2b2b2;"></div><div style="position:absolute;left:302.20px;top:1012.00px;width:2.00px;height:38.00px;background:#b2b2b2;"></div><div style="position:absolute;left:324.60px;top:1012.00px;width:2.00px;height:38.00px;background:#b2b2b2;"></div><div style="position:absolute;left:347.00px;top:1012.00px;width:2.00px;height:38.00px;background:#b2b2b2;"></div><div style="position:absolute;left:369.40px;top:1012.00px;width:2.00px;height:38.00px;background:#b2b2b2;"></div><div style="position:absolute;left:391.80px;top:1012.00px;width:2.00px;height:38.00px;background:#b2b2b2;"></div><div style="position:absolute;left:414.20px;top:1012.00px;width:2.00px;height:38.00px;background:#b2b2b2;"></div><div style="position:absolute;left:436.60px;top:1012.00px;width:2.00px;height:38.00px;background:#b2b2b2;"></div><div style="position:absolute;left:459.00px;top:1012.00px;width:2.00px;height:38.00px;background:#b2b2b2;"></div><div style="position:absolute;left:481.40px;top:1012.00px;width:2.00px;height:38.00px;background:#b2b2b2;"></div><div style="position:absolute;left:503.80px;top:1012.00px;width:2.00px;height:38.00px;background:#b2b2b2;"></div><div style="position:absolute;left:526.20px;top:1012.00px;width:2.00px;height:38.00px;background:#b2b2b2;"></div><div style="position:absolute;left:548.60px;top:1012.00px;width:2.00px;height:38.00px;background:#b2b2b2;"></div><div style="position:absolute;left:571.00px;top:1012.00px;width:2.00px;height:38.00px;background:#b2b2b2;"></div><div style="position:absolute;left:593.40px;top:1012.00px;width:2.00px;height:38.00px;background:#b2b2b2;"></div><div style="position:absolute;left:615.80px;top:1012.00px;width:2.00px;height:38.00px;background:#b2b2b2;"></div><div style="position:absolute;left:638.20px;top:1012.00px;width:2.00px;height:38.00px;background:#b2b2b2;"></div><div style="position:absolute;left:660.60px;top:1012.00px;width:2.00px;height:38.00px;background:#b2b2b2;"></div><div style="position:absolute;left:683.00px;top:1012.00px;width:2.00px;height:38.00px;background:#b2b2b2;"></div><div style="position:absolute;left:16.20px;top:1016.50px;width:14.00px;height:27.50px;box-sizing:border-box;border:1.9px solid #5e5d59;border-radius:5.5px;background:linear-gradient(137deg,#8b8a86 0%,#8f8e8a 63%,#aeada8 63%,#b6b5b0 100%);"></div><div style="position:absolute;left:38.60px;top:1016.50px;width:14.00px;height:27.50px;box-sizing:border-box;border:1.9px solid #5e5d59;border-radius:5.5px;background:linear-gradient(137deg,#8b8a86 0%,#8f8e8a 63%,#aeada8 63%,#b6b5b0 100%);"></div><div style="position:absolute;left:128.20px;top:1016.50px;width:14.00px;height:27.50px;box-sizing:border-box;border:1.9px solid #5e5d59;border-radius:5.5px;background:linear-gradient(137deg,#8b8a86 0%,#8f8e8a 63%,#aeada8 63%,#b6b5b0 100%);"></div><div style="position:absolute;left:150.60px;top:1016.50px;width:14.00px;height:27.50px;box-sizing:border-box;border:1.9px solid #5e5d59;border-radius:5.5px;background:linear-gradient(137deg,#8b8a86 0%,#8f8e8a 63%,#aeada8 63%,#b6b5b0 100%);"></div><div style="position:absolute;left:173.00px;top:1016.50px;width:14.00px;height:27.50px;box-sizing:border-box;border:1.9px solid #5e5d59;border-radius:5.5px;background:linear-gradient(137deg,#8b8a86 0%,#8f8e8a 63%,#aeada8 63%,#b6b5b0 100%);"></div><div style="position:absolute;left:195.40px;top:1016.50px;width:14.00px;height:27.50px;box-sizing:border-box;border:1.9px solid #5e5d59;border-radius:5.5px;background:linear-gradient(137deg,#8b8a86 0%,#8f8e8a 63%,#aeada8 63%,#b6b5b0 100%);"></div><div style="position:absolute;left:285.00px;top:1016.50px;width:14.00px;height:27.50px;box-sizing:border-box;border:1.9px solid #5e5d59;border-radius:5.5px;background:linear-gradient(137deg,#8b8a86 0%,#8f8e8a 63%,#aeada8 63%,#b6b5b0 100%);"></div><div style="position:absolute;left:307.40px;top:1016.50px;width:14.00px;height:27.50px;box-sizing:border-box;border:1.9px solid #5e5d59;border-radius:5.5px;background:linear-gradient(137deg,#8b8a86 0%,#8f8e8a 63%,#aeada8 63%,#b6b5b0 100%);"></div><div style="position:absolute;left:329.80px;top:1016.50px;width:14.00px;height:27.50px;box-sizing:border-box;border:1.9px solid #5e5d59;border-radius:5.5px;background:linear-gradient(137deg,#8b8a86 0%,#8f8e8a 63%,#aeada8 63%,#b6b5b0 100%);"></div><div style="position:absolute;left:352.20px;top:1016.50px;width:14.00px;height:27.50px;box-sizing:border-box;border:1.9px solid #5e5d59;border-radius:5.5px;background:linear-gradient(137deg,#8b8a86 0%,#8f8e8a 63%,#aeada8 63%,#b6b5b0 100%);"></div><div style="position:absolute;left:441.80px;top:1016.50px;width:14.00px;height:27.50px;box-sizing:border-box;border:1.9px solid #5e5d59;border-radius:5.5px;background:linear-gradient(137deg,#8b8a86 0%,#8f8e8a 63%,#aeada8 63%,#b6b5b0 100%);"></div><div style="position:absolute;left:464.20px;top:1016.50px;width:14.00px;height:27.50px;box-sizing:border-box;border:1.9px solid #5e5d59;border-radius:5.5px;background:linear-gradient(137deg,#8b8a86 0%,#8f8e8a 63%,#aeada8 63%,#b6b5b0 100%);"></div><div style="position:absolute;left:486.60px;top:1016.50px;width:14.00px;height:27.50px;box-sizing:border-box;border:1.9px solid #5e5d59;border-radius:5.5px;background:linear-gradient(137deg,#8b8a86 0%,#8f8e8a 63%,#aeada8 63%,#b6b5b0 100%);"></div><div style="position:absolute;left:509.00px;top:1016.50px;width:14.00px;height:27.50px;box-sizing:border-box;border:1.9px solid #5e5d59;border-radius:5.5px;background:linear-gradient(137deg,#8b8a86 0%,#8f8e8a 63%,#aeada8 63%,#b6b5b0 100%);"></div><div style="position:absolute;left:598.60px;top:1016.50px;width:14.00px;height:27.50px;box-sizing:border-box;border:1.9px solid #5e5d59;border-radius:5.5px;background:linear-gradient(137deg,#8b8a86 0%,#8f8e8a 63%,#aeada8 63%,#b6b5b0 100%);"></div><div style="position:absolute;left:621.00px;top:1016.50px;width:14.00px;height:27.50px;box-sizing:border-box;border:1.9px solid #5e5d59;border-radius:5.5px;background:linear-gradient(137deg,#8b8a86 0%,#8f8e8a 63%,#aeada8 63%,#b6b5b0 100%);"></div><div style="position:absolute;left:643.40px;top:1016.50px;width:14.00px;height:27.50px;box-sizing:border-box;border:1.9px solid #5e5d59;border-radius:5.5px;background:linear-gradient(137deg,#8b8a86 0%,#8f8e8a 63%,#aeada8 63%,#b6b5b0 100%);"></div><div style="position:absolute;left:665.80px;top:1016.50px;width:14.00px;height:27.50px;box-sizing:border-box;border:1.9px solid #5e5d59;border-radius:5.5px;background:linear-gradient(137deg,#8b8a86 0%,#8f8e8a 63%,#aeada8 63%,#b6b5b0 100%);"></div><svg style="position:absolute;left:25.5px;top:1063px" width="57" height="57" viewBox="0 0 57 57"><defs><clipPath id="c3"><circle cx="28.5" cy="28.5" r="28"/></clipPath></defs><circle cx="28.5" cy="28.5" r="28" fill="#afe1f3"/><g clip-path="url(#c3)"><path d="M0,57 L0,52 C6,46 14,41.5 28.5,41.5 C43,41.5 51,46 57,52 L57,57 Z" fill="#fff"/><ellipse cx="28.3" cy="24.6" rx="14.5" ry="18" fill="#fff" stroke="#afe1f3" stroke-width="1.6"/></g><circle cx="28.5" cy="28.5" r="27.8" fill="none" stroke="#e6eef1" stroke-width="0.8"/></svg><div class="t" style="left:96.50px;top:1080.68px;font-size:24px;font-weight:normal;color:#333;letter-spacing:0.8px;-webkit-text-stroke:0.9px #333;">Ansen, Roger</div><div class="t" style="left:-111.00px;width:800px;text-align:right;top:1082.56px;font-size:18px;font-weight:normal;color:#555;letter-spacing:0.3px;margin-right:-0.3px;">Total hours: 162h</div><div style="position:absolute;left:80.20px;top:1136.00px;width:20.40px;height:34.00px;background:#eeeff1;"></div><div style="position:absolute;left:102.60px;top:1136.00px;width:20.40px;height:34.00px;background:#eeeff1;"></div><div style="position:absolute;left:237.00px;top:1136.00px;width:20.40px;height:34.00px;background:#eeeff1;"></div><div style="position:absolute;left:259.40px;top:1136.00px;width:20.40px;height:34.00px;background:#eeeff1;"></div><div style="position:absolute;left:393.80px;top:1136.00px;width:20.40px;height:34.00px;background:#eeeff1;"></div><div style="position:absolute;left:416.20px;top:1136.00px;width:20.40px;height:34.00px;background:#eeeff1;"></div><div style="position:absolute;left:550.60px;top:1136.00px;width:20.40px;height:34.00px;background:#eeeff1;"></div><div style="position:absolute;left:573.00px;top:1136.00px;width:20.40px;height:34.00px;background:#eeeff1;"></div><div style="position:absolute;left:595.40px;top:1136.00px;width:20.40px;height:34.00px;background:#e0f4fb;"></div><div style="position:absolute;left:14.00px;top:1134.00px;width:691.00px;height:2.00px;background:#b2b2b2;"></div><div style="position:absolute;left:14.00px;top:1170.00px;width:691.00px;height:2.00px;background:#b2b2b2;"></div><div style="position:absolute;left:33.40px;top:1134.00px;width:2.00px;height:38.00px;background:#b2b2b2;"></div><div style="position:absolute;left:55.80px;top:1134.00px;width:2.00px;height:38.00px;background:#b2b2b2;"></div><div style="position:absolute;left:78.20px;top:1134.00px;width:2.00px;height:38.00px;background:#b2b2b2;"></div><div style="position:absolute;left:100.60px;top:1134.00px;width:2.00px;height:38.00px;background:#b2b2b2;"></div><div style="position:absolute;left:123.00px;top:1134.00px;width:2.00px;height:38.00px;background:#b2b2b2;"></div><div style="position:absolute;left:145.40px;top:1134.00px;width:2.00px;height:38.00px;background:#b2b2b2;"></div><div style="position:absolute;left:167.80px;top:1134.00px;width:2.00px;height:38.00px;background:#b2b2b2;"></div><div style="position:absolute;left:190.20px;top:1134.00px;width:2.00px;height:38.00px;background:#b2b2b2;"></div><div style="position:absolute;left:212.60px;top:1134.00px;width:2.00px;height:38.00px;background:#b2b2b2;"></div><div style="position:absolute;left:235.00px;top:1134.00px;width:2.00px;height:38.00px;background:#b2b2b2;"></div><div style="position:absolute;left:257.40px;top:1134.00px;width:2.00px;height:38.00px;background:#b2b2b2;"></div><div style="position:absolute;left:279.80px;top:1134.00px;width:2.00px;height:38.00px;background:#b2b2b2;"></div><div style="position:absolute;left:302.20px;top:1134.00px;width:2.00px;height:38.00px;background:#b2b2b2;"></div><div style="position:absolute;left:324.60px;top:1134.00px;width:2.00px;height:38.00px;background:#b2b2b2;"></div><div style="position:absolute;left:347.00px;top:1134.00px;width:2.00px;height:38.00px;background:#b2b2b2;"></div><div style="position:absolute;left:369.40px;top:1134.00px;width:2.00px;height:38.00px;background:#b2b2b2;"></div><div style="position:absolute;left:391.80px;top:1134.00px;width:2.00px;height:38.00px;background:#b2b2b2;"></div><div style="position:absolute;left:414.20px;top:1134.00px;width:2.00px;height:38.00px;background:#b2b2b2;"></div><div style="position:absolute;left:436.60px;top:1134.00px;width:2.00px;height:38.00px;background:#b2b2b2;"></div><div style="position:absolute;left:459.00px;top:1134.00px;width:2.00px;height:38.00px;background:#b2b2b2;"></div><div style="position:absolute;left:481.40px;top:1134.00px;width:2.00px;height:38.00px;background:#b2b2b2;"></div><div style="position:absolute;left:503.80px;top:1134.00px;width:2.00px;height:38.00px;background:#b2b2b2;"></div><div style="position:absolute;left:526.20px;top:1134.00px;width:2.00px;height:38.00px;background:#b2b2b2;"></div><div style="position:absolute;left:548.60px;top:1134.00px;width:2.00px;height:38.00px;background:#b2b2b2;"></div><div style="position:absolute;left:571.00px;top:1134.00px;width:2.00px;height:38.00px;background:#b2b2b2;"></div><div style="position:absolute;left:593.40px;top:1134.00px;width:2.00px;height:38.00px;background:#b2b2b2;"></div><div style="position:absolute;left:615.80px;top:1134.00px;width:2.00px;height:38.00px;background:#b2b2b2;"></div><div style="position:absolute;left:638.20px;top:1134.00px;width:2.00px;height:38.00px;background:#b2b2b2;"></div><div style="position:absolute;left:660.60px;top:1134.00px;width:2.00px;height:38.00px;background:#b2b2b2;"></div><div style="position:absolute;left:683.00px;top:1134.00px;width:2.00px;height:38.00px;background:#b2b2b2;"></div><div style="position:absolute;left:16.20px;top:1138.50px;width:14.00px;height:27.50px;box-sizing:border-box;border:1.3px solid #d3598f;border-radius:5.5px;background:linear-gradient(216deg,#f89cc6 0%,#f592bf 50%,#f27aad 50%,#ef70a7 100%);"></div><div style="position:absolute;left:38.60px;top:1138.50px;width:14.00px;height:27.50px;box-sizing:border-box;border:1.3px solid #d3598f;border-radius:5.5px;background:linear-gradient(216deg,#f89cc6 0%,#f592bf 50%,#f27aad 50%,#ef70a7 100%);"></div><div style="position:absolute;left:128.20px;top:1138.50px;width:14.00px;height:27.50px;box-sizing:border-box;border:1.3px solid #d3598f;border-radius:5.5px;background:linear-gradient(216deg,#f89cc6 0%,#f592bf 50%,#f27aad 50%,#ef70a7 100%);"></div><div style="position:absolute;left:150.60px;top:1138.50px;width:14.00px;height:27.50px;box-sizing:border-box;border:1.3px solid #d3598f;border-radius:5.5px;background:linear-gradient(216deg,#f89cc6 0%,#f592bf 50%,#f27aad 50%,#ef70a7 100%);"></div><div style="position:absolute;left:173.00px;top:1138.50px;width:14.00px;height:27.50px;box-sizing:border-box;border:1.3px solid #d3598f;border-radius:5.5px;background:linear-gradient(216deg,#f89cc6 0%,#f592bf 50%,#f27aad 50%,#ef70a7 100%);"></div><div style="position:absolute;left:195.40px;top:1138.50px;width:14.00px;height:27.50px;box-sizing:border-box;border:1.3px solid #d3598f;border-radius:5.5px;background:linear-gradient(216deg,#f89cc6 0%,#f592bf 50%,#f27aad 50%,#ef70a7 100%);"></div><div style="position:absolute;left:285.00px;top:1138.50px;width:14.00px;height:27.50px;box-sizing:border-box;border:1.3px solid #d3598f;border-radius:5.5px;background:linear-gradient(216deg,#f89cc6 0%,#f592bf 50%,#f27aad 50%,#ef70a7 100%);"></div><div style="position:absolute;left:307.40px;top:1138.50px;width:14.00px;height:27.50px;box-sizing:border-box;border:1.3px solid #d3598f;border-radius:5.5px;background:linear-gradient(216deg,#f89cc6 0%,#f592bf 50%,#f27aad 50%,#ef70a7 100%);"></div><div style="position:absolute;left:329.80px;top:1138.50px;width:14.00px;height:27.50px;box-sizing:border-box;border:1.3px solid #d3598f;border-radius:5.5px;background:linear-gradient(216deg,#f89cc6 0%,#f592bf 50%,#f27aad 50%,#ef70a7 100%);"></div><div style="position:absolute;left:352.20px;top:1138.50px;width:14.00px;height:27.50px;box-sizing:border-box;border:1.3px solid #d3598f;border-radius:5.5px;background:linear-gradient(216deg,#f89cc6 0%,#f592bf 50%,#f27aad 50%,#ef70a7 100%);"></div><div style="position:absolute;left:441.80px;top:1138.50px;width:14.00px;height:27.50px;box-sizing:border-box;border:1.3px solid #d3598f;border-radius:5.5px;background:linear-gradient(216deg,#f89cc6 0%,#f592bf 50%,#f27aad 50%,#ef70a7 100%);"></div><div style="position:absolute;left:464.20px;top:1138.50px;width:14.00px;height:27.50px;box-sizing:border-box;border:1.3px solid #d3598f;border-radius:5.5px;background:linear-gradient(216deg,#f89cc6 0%,#f592bf 50%,#f27aad 50%,#ef70a7 100%);"></div><div style="position:absolute;left:486.60px;top:1138.50px;width:14.00px;height:27.50px;box-sizing:border-box;border:1.3px solid #d3598f;border-radius:5.5px;background:linear-gradient(216deg,#f89cc6 0%,#f592bf 50%,#f27aad 50%,#ef70a7 100%);"></div><div style="position:absolute;left:509.00px;top:1138.50px;width:14.00px;height:27.50px;box-sizing:border-box;border:1.3px solid #d3598f;border-radius:5.5px;background:linear-gradient(216deg,#f89cc6 0%,#f592bf 50%,#f27aad 50%,#ef70a7 100%);"></div><div style="position:absolute;left:598.60px;top:1138.50px;width:14.00px;height:27.50px;box-sizing:border-box;border:1.3px solid #d3598f;border-radius:5.5px;background:linear-gradient(216deg,#f89cc6 0%,#f592bf 50%,#f27aad 50%,#ef70a7 100%);"></div><div style="position:absolute;left:621.00px;top:1138.50px;width:14.00px;height:27.50px;box-sizing:border-box;border:1.3px solid #d3598f;border-radius:5.5px;background:linear-gradient(216deg,#f89cc6 0%,#f592bf 50%,#f27aad 50%,#ef70a7 100%);"></div><div style="position:absolute;left:643.40px;top:1138.50px;width:14.00px;height:27.50px;box-sizing:border-box;border:1.3px solid #d3598f;border-radius:5.5px;background:linear-gradient(216deg,#f89cc6 0%,#f592bf 50%,#f27aad 50%,#ef70a7 100%);"></div><div style="position:absolute;left:665.80px;top:1138.50px;width:14.00px;height:27.50px;box-sizing:border-box;border:1.3px solid #d3598f;border-radius:5.5px;background:linear-gradient(216deg,#f89cc6 0%,#f592bf 50%,#f27aad 50%,#ef70a7 100%);"></div><div style="position:absolute;left:14.00px;top:1152.50px;width:692.00px;height:100.00px;background:#f5f6f8;"></div><div style="position:absolute;left:108.00px;top:1168.30px;width:24.30px;height:5.20px;background:#666;border-radius:1.5px;"></div><div style="position:absolute;left:111.40px;top:1177.70px;width:24.30px;height:5.20px;background:#666;border-radius:1.5px;"></div><div style="position:absolute;left:108.00px;top:1187.40px;width:24.30px;height:5.20px;background:#666;border-radius:1.5px;"></div><div class="t" style="left:-278.20px;width:800px;text-align:center;top:1210.00px;font-size:21.5px;font-weight:normal;color:#666;letter-spacing:0.67px;text-indent:0.67px;-webkit-text-stroke:0.3px #666;">Tasking</div><div style="position:absolute;left:342.70px;top:1172.00px;width:7.10px;height:7.00px;background:#666;border-radius:2px;"></div><div style="position:absolute;left:351.35px;top:1172.00px;width:7.10px;height:7.00px;background:#666;border-radius:2px;"></div><div style="position:absolute;left:360.00px;top:1172.00px;width:7.10px;height:7.00px;background:#666;border-radius:2px;"></div><div style="position:absolute;left:342.70px;top:1182.40px;width:7.10px;height:7.00px;background:#666;border-radius:2px;"></div><div style="position:absolute;left:351.35px;top:1182.40px;width:7.10px;height:7.00px;background:#666;border-radius:2px;"></div><div style="position:absolute;left:360.00px;top:1182.40px;width:7.10px;height:7.00px;background:#666;border-radius:2px;"></div><div class="t" style="left:-45.80px;width:800px;text-align:center;top:1209.60px;font-size:21.5px;font-weight:normal;color:#666;letter-spacing:0.48px;text-indent:0.48px;-webkit-text-stroke:0.3px #666;">Scheduling</div><div style="position:absolute;left:579.10px;top:1168.10px;width:7.80px;height:6.80px;background:#1477a8;border-radius:1.5px;"></div><div style="position:absolute;left:589.05px;top:1168.10px;width:7.80px;height:6.80px;background:#1477a8;border-radius:1.5px;"></div><div style="position:absolute;left:599.00px;top:1168.10px;width:7.80px;height:6.80px;background:#1477a8;border-radius:1.5px;"></div><div style="position:absolute;left:579.10px;top:1177.00px;width:7.80px;height:6.80px;background:#1477a8;border-radius:1.5px;"></div><div style="position:absolute;left:589.05px;top:1177.00px;width:7.80px;height:6.80px;background:#1477a8;border-radius:1.5px;"></div><div style="position:absolute;left:599.00px;top:1177.00px;width:7.80px;height:6.80px;background:#1477a8;border-radius:1.5px;"></div><div style="position:absolute;left:579.10px;top:1185.90px;width:7.80px;height:6.80px;background:#1477a8;border-radius:1.5px;"></div><div style="position:absolute;left:589.05px;top:1185.90px;width:7.80px;height:6.80px;background:#1477a8;border-radius:1.5px;"></div><div style="position:absolute;left:599.00px;top:1185.90px;width:7.80px;height:6.80px;background:#1477a8;border-radius:1.5px;"></div><div class="t" style="left:192.50px;width:800px;text-align:center;top:1210.10px;font-size:21.5px;font-weight:normal;color:#1477a8;letter-spacing:0.71px;text-indent:0.71px;-webkit-text-stroke:0.3px #1477a8;">Planning</div><svg style="position:absolute;left:55px;top:236px" width="28" height="28" viewBox="0 0 28 28"><g fill="#1477a8" stroke="#1477a8" stroke-width="0.9" stroke-linejoin="round"><path d="M14,2.3 L25.8,8 L14,13.7 L2.2,8 Z"/><path d="M2.2,13.9 L5.4,12.3 L14,16.4 L22.6,12.3 L25.8,13.9 L14,19.6 Z"/><path d="M2.2,20.7 L5.4,19.1 L14,23.2 L22.6,19.1 L25.8,20.7 L14,26.4 Z"/></g></svg><div class="t" style="left:88.00px;top:237.81px;font-size:25.5px;font-weight:normal;color:#1477a8;letter-spacing:0.84px;-webkit-text-stroke:0.8px #1477a8;">Hierarchy</div><svg style="position:absolute;left:274px;top:238px" width="28" height="25" viewBox="0 0 28 25"><path d="M5.2,1.8 L8.1,1.8 L8.1,15.5 L11,15.5 L6.65,22.8 L2.3,15.5 L5.2,15.5 Z" fill="#1477a8"/><rect x="13" y="1.8" width="13.2" height="2.8" rx="1" fill="#1477a8"/><rect x="13" y="7.9" width="10.1" height="2.8" rx="1" fill="#1477a8"/><rect x="13" y="14.3" width="7" height="2.6" rx="1" fill="#1477a8"/><rect x="13" y="20.2" width="4" height="2.6" rx="1" fill="#1477a8"/></svg><div class="t" style="left:306.00px;top:237.81px;font-size:25.5px;font-weight:normal;color:#1477a8;letter-spacing:0.33px;-webkit-text-stroke:0.8px #1477a8;">Groups &amp; Sorting</div><svg style="position:absolute;left:56px;top:315px" width="26" height="23" viewBox="0 0 26 23"><rect x="1" y="1.3" width="24" height="20.8" rx="2.2" fill="#1477a8"/><circle cx="8" cy="7.3" r="1.9" fill="#fff"/><circle cx="8" cy="11.7" r="1.9" fill="#fff"/><circle cx="8" cy="16.1" r="1.9" fill="#fff"/><rect x="11.2" y="6" width="10" height="2.6" rx="0.6" fill="#fff"/><rect x="11.2" y="10.4" width="10" height="2.6" rx="0.6" fill="#fff"/><rect x="11.2" y="14.8" width="10" height="2.6" rx="0.6" fill="#fff"/></svg><div class="t" style="left:87.50px;top:314.91px;font-size:25.5px;font-weight:normal;color:#1477a8;letter-spacing:0.29px;-webkit-text-stroke:0.8px #1477a8;">Category</div>
</body></html>
